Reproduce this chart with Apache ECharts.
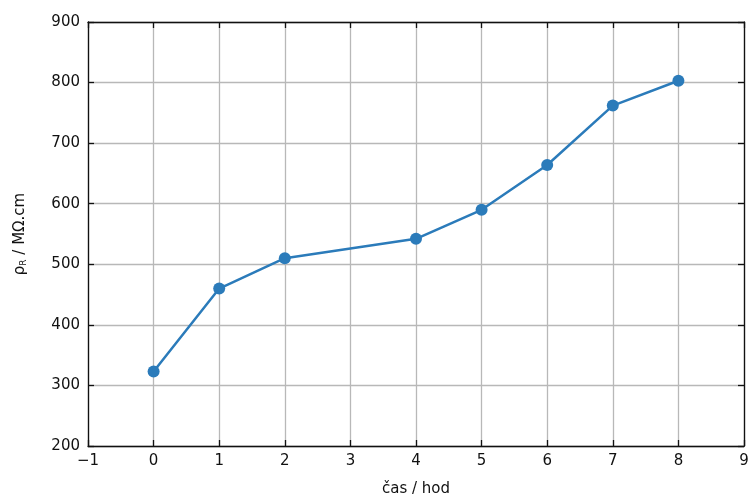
<!DOCTYPE html>
<html><head><meta charset="utf-8">
<script src="https://cdn.jsdelivr.net/npm/echarts@6/dist/echarts.min.js"></script>
<style>html,body{margin:0;padding:0;background:#fff}#c{width:752px;height:502px}</style>
</head><body><div id="c"></div>
<script>
const xValues = [0, 1, 2, 4, 5, 6, 7, 8];
const rhoValues = [323, 460, 510, 542, 590, 664, 762, 803];
const xTitle = 'čas / hod';
const yTitleMain = 'ρ';
const yTitleSub = 'R';
const yTitleRest = ' / MΩ.cm';

const chart = echarts.init(document.getElementById('c'));
const font = 'DejaVu Sans';
const axisCommon = {
  axisLine: {show: true, onZero: false, lineStyle: {color: '#111', width: 1.3}},
  axisTick: {show: true, inside: true, length: 6, lineStyle: {color: '#111', width: 1.3}},
};
chart.setOption({
  animation: false,
  grid: {left: 88, right: 8, top: 22, bottom: 54},
  xAxis: [{
    type: 'value', min: -1, max: 9, interval: 1,
    ...axisCommon,
    axisLabel: {color: '#111', fontFamily: font, fontSize: 15, margin: 8,
      formatter: v => v < 0 ? '\u2212' + Math.abs(v) : String(v)},
    splitLine: {show: true, lineStyle: {color: '#b8b8b8', width: 1.3}},
    name: xTitle, nameLocation: 'middle', nameGap: 36,
    nameTextStyle: {color: '#111', fontFamily: font, fontSize: 15}
  }, {
    type: 'value', min: -1, max: 9, interval: 1, position: 'top',
    ...axisCommon, axisLabel: {show: false}, splitLine: {show: false}
  }],
  yAxis: [{
    type: 'value', min: 200, max: 900, interval: 100,
    ...axisCommon,
    axisLabel: {color: '#111', fontFamily: font, fontSize: 15, margin: 8},
    splitLine: {show: true, lineStyle: {color: '#b8b8b8', width: 1.3}},
    name: '{m|' + yTitleMain + '}{s|' + yTitleSub + '}{m|' + yTitleRest + '}',
    nameLocation: 'middle', nameGap: 60,
    nameTextStyle: {color: '#111', fontFamily: font, fontSize: 15,
      rich: {m: {fontFamily: font, fontSize: 15, color: '#111'},
             s: {fontFamily: font, fontSize: 9, color: '#111', verticalAlign: 'bottom', padding: [6,0,0,0]}}}
  }, {
    type: 'value', min: 200, max: 900, interval: 100, position: 'right',
    ...axisCommon, axisLabel: {show: false}, splitLine: {show: false}
  }],
  series: [{
    type: 'line',
    data: xValues.map((x, i) => [x, rhoValues[i]]),
    symbol: 'circle', symbolSize: 12,
    lineStyle: {color: '#2b7bba', width: 2.5},
    itemStyle: {color: '#2b7bba'}
  }]
});
</script></body></html>
